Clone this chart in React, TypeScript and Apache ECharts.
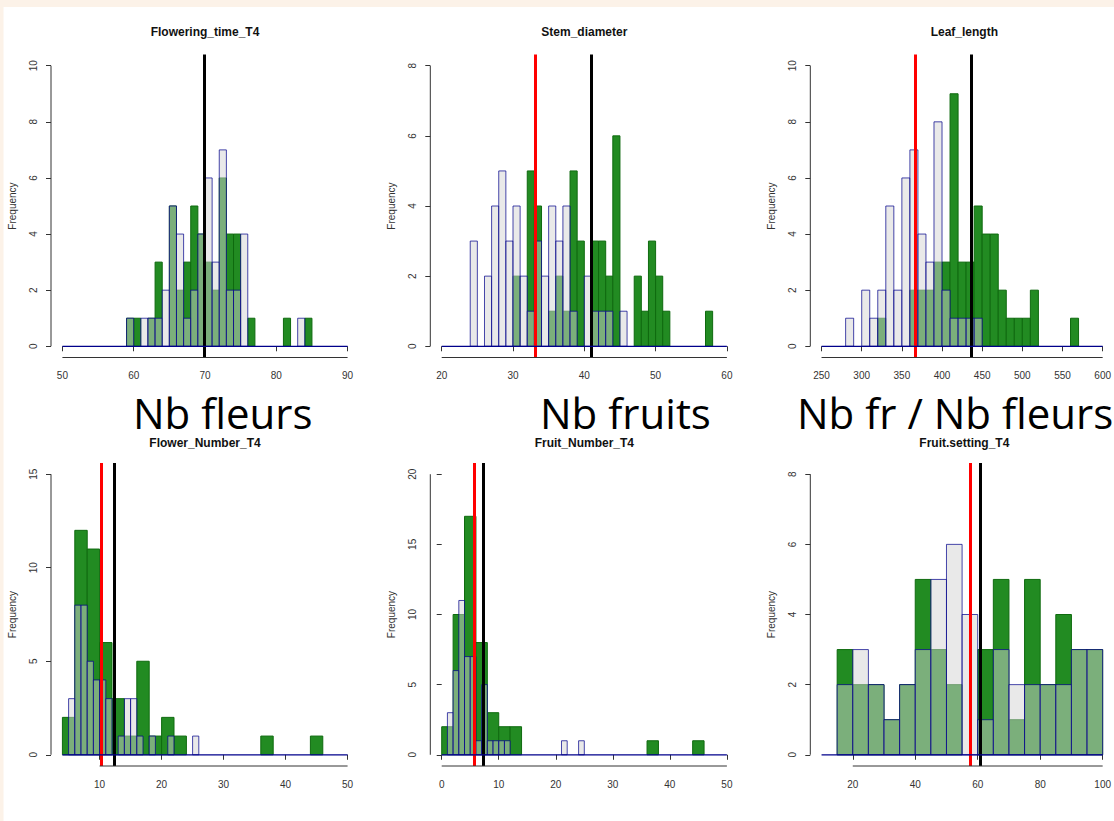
import React, { useEffect, useRef } from "react";
import * as echarts from "echarts";

// ---------- data ----------
const panelTitles = ["Flowering_time_T4", "Stem_diameter", "Leaf_length", "Flower_Number_T4", "Fruit_Number_T4", "Fruit.setting_T4"];
const slideLabels = ["Nb fleurs", "Nb fruits", "Nb fr / Nb fleurs"];

// Flowering_time_T4 (bins of 1 from 59)
const ftStart = 59, ftWidth = 1;
const ftGreen = [1, 1, 0, 1, 3, 0, 5, 2, 3, 5, 4, 3, 2, 6, 4, 4, 0, 1, 0, 0, 0, 0, 1, 0, 0, 1];
const ftGrey = [1, 0, 1, 1, 1, 2, 5, 4, 1, 2, 4, 6, 3, 7, 2, 2, 4, 0, 0, 0, 0, 0, 0, 0, 1, 0];
const ftXlim = [50, 90], ftXTicks = [50, 60, 70, 80, 90], ftYTicks = [0, 2, 4, 6, 8, 10];
const ftRed: number[] = [], ftBlack = [69.9];

// Stem_diameter (bins of 1 from 24)
const sdStart = 24, sdWidth = 1;
const sdGreen = [0, 0, 0, 0, 0, 0, 2, 0, 5, 4, 0, 1, 2, 1, 5, 3, 0, 3, 3, 2, 6, 0, 0, 2, 1, 3, 2, 1, 0, 0, 0, 0, 0, 1];
const sdGrey = [3, 0, 2, 4, 5, 3, 4, 2, 1, 3, 2, 4, 3, 4, 1, 0, 2, 1, 1, 1, 0, 1, 0, 0, 0, 0, 0, 0, 0, 0, 0, 0, 0, 0];
const sdXlim = [20, 60], sdXTicks = [20, 30, 40, 50, 60], sdYTicks = [0, 2, 4, 6, 8];
const sdRed = [33.15], sdBlack = [41.0];

// Leaf_length (bins of 10 from 280)
const llStart = 280, llWidth = 10;
const llGreen = [0, 0, 0, 0, 1, 0, 0, 0, 2, 2, 2, 3, 3, 9, 3, 3, 5, 4, 4, 2, 1, 1, 1, 2, 0, 0, 0, 0, 1];
const llGrey = [1, 0, 2, 1, 2, 5, 2, 6, 7, 4, 3, 8, 2, 1, 1, 1, 1, 0, 0, 0, 0, 0, 0, 0, 0, 0, 0, 0, 0];
const llXlim = [250, 600], llXTicks = [250, 300, 350, 400, 450, 500, 550, 600], llYTicks = [0, 2, 4, 6, 8, 10];
const llRed = [367], llBlack = [436.7];

// Flower_Number_T4 (green bins of 2 from 4, grey bins of 1 from 5)
const fnGreenStart = 4, fnGreenWidth = 2;
const fnGreen = [2, 12, 11, 6, 3, 1, 5, 1, 2, 1, 0, 0, 0, 0, 0, 0, 1, 0, 0, 0, 1];
const fnGreyStart = 5, fnGreyWidth = 1;
const fnGrey = [3, 8, 8, 5, 4, 4, 3, 0, 1, 3, 3, 1, 0, 1, 0, 0, 1, 0, 0, 0, 1];
const fnXlim = [4, 50], fnXTicks = [10, 20, 30, 40, 50], fnYTicks = [0, 5, 10, 15];
const fnRed = [10.27], fnBlack = [12.3];

// Fruit_Number_T4 (green bins of 2 from 0, grey bins of 1 from 1)
const frGreenStart = 0, frGreenWidth = 2;
const frGreen = [2, 10, 17, 8, 3, 2, 2, 0, 0, 0, 0, 0, 0, 0, 0, 0, 0, 0, 1, 0, 0, 0, 1];
const frGreyStart = 1, frGreyWidth = 1;
const frGrey = [3, 6, 11, 7, 7, 1, 5, 1, 1, 1, 1, 0, 0, 0, 0, 0, 0, 0, 0, 0, 1, 0, 0, 1];
const frXlim = [0, 50], frXTicks = [0, 10, 20, 30, 40, 50], frYTicks = [0, 5, 10, 15, 20];
const frRed = [5.73], frBlack = [7.31];

// Fruit.setting_T4 (bins of 5 from 15)
const fsStart = 15, fsWidth = 5;
const fsGreen = [3, 2, 2, 1, 2, 5, 3, 2, 0, 3, 5, 1, 5, 2, 4, 3, 3];
const fsGrey = [2, 3, 2, 1, 2, 3, 5, 6, 4, 1, 3, 2, 2, 2, 2, 3, 3];
const fsXlim = [10, 100], fsXTicks = [20, 40, 60, 80, 100], fsYTicks = [0, 2, 4, 6, 8];
const fsRed = [57.7], fsBlack = [60.8];

// ---------- layout / styles ----------
const colLeft = [51, 430.3, 810.3];
const rowTop = [54.5, 463];
const gridW = 308;
const gridH = 303;
const GREEN = "#228B22";
const GREEN_BORDER = "#0f6a0f";
const GREY = "rgba(211,211,211,0.5)";
const GREY_BORDER = "rgba(0,0,139,0.72)";
const AXIS = "#333333";
const FONT = "Liberation Sans, Arial, sans-serif";

type Panel = {
  green: number[][];
  grey: number[][];
  xlim: number[];
  xTicks: number[];
  yTicks: number[];
  red: number[];
  black: number[];
};

function bins(start: number, width: number, counts: number[]) {
  return counts
    .map((c, i) => [start + i * width, start + (i + 1) * width, c])
    .filter((d) => d[2] > 0);
}

const panels: Panel[] = [
  { green: bins(ftStart, ftWidth, ftGreen), grey: bins(ftStart, ftWidth, ftGrey), xlim: ftXlim, xTicks: ftXTicks, yTicks: ftYTicks, red: ftRed, black: ftBlack },
  { green: bins(sdStart, sdWidth, sdGreen), grey: bins(sdStart, sdWidth, sdGrey), xlim: sdXlim, xTicks: sdXTicks, yTicks: sdYTicks, red: sdRed, black: sdBlack },
  { green: bins(llStart, llWidth, llGreen), grey: bins(llStart, llWidth, llGrey), xlim: llXlim, xTicks: llXTicks, yTicks: llYTicks, red: llRed, black: llBlack },
  { green: bins(fnGreenStart, fnGreenWidth, fnGreen), grey: bins(fnGreyStart, fnGreyWidth, fnGrey), xlim: fnXlim, xTicks: fnXTicks, yTicks: fnYTicks, red: fnRed, black: fnBlack },
  { green: bins(frGreenStart, frGreenWidth, frGreen), grey: bins(frGreyStart, frGreyWidth, frGrey), xlim: frXlim, xTicks: frXTicks, yTicks: frYTicks, red: frRed, black: frBlack },
  { green: bins(fsStart, fsWidth, fsGreen), grey: bins(fsStart, fsWidth, fsGrey), xlim: fsXlim, xTicks: fsXTicks, yTicks: fsYTicks, red: fsRed, black: fsBlack },
];

function ext(lo: number, hi: number) {
  const d = (hi - lo) * 0.04;
  return [lo - d, hi + d];
}

function histSeries(i: number, data: number[][], fill: string, stroke: string, z: number) {
  return {
    type: "custom",
    xAxisIndex: i,
    yAxisIndex: i,
    z,
    silent: true,
    encode: { x: [0, 1], y: 2 },
    data,
    renderItem: (params: any, api: any) => {
      const x0 = api.value(0);
      const x1 = api.value(1);
      const c = api.value(2);
      const p0 = api.coord([x0, c]);
      const p1 = api.coord([x1, 0]);
      return {
        type: "rect",
        shape: { x: p0[0], y: p0[1], width: p1[0] - p0[0], height: p1[1] - p0[1] },
        style: { fill, stroke, lineWidth: 1 },
      };
    },
  };
}

function buildOption() {
  const grid: any[] = [];
  const xAxis: any[] = [];
  const yAxis: any[] = [];
  const series: any[] = [];
  const graphic: any[] = [];

  panels.forEach((p, i) => {
    const col = i % 3;
    const row = Math.floor(i / 3);
    const left = colLeft[col];
    const top = rowTop[row];
    grid.push({ left, top, width: gridW, height: gridH, containLabel: false });
    const xe = ext(p.xlim[0], p.xlim[1]);
    const yMax = p.yTicks[p.yTicks.length - 1];
    const ye = ext(0, yMax);
    xAxis.push({
      gridIndex: i,
      type: "value",
      min: xe[0],
      max: xe[1],
      axisLine: { show: false },
      splitLine: { show: false },
      axisTick: { show: true, customValues: p.xTicks, length: 5, lineStyle: { color: AXIS, width: 1 } },
      axisLabel: { customValues: p.xTicks, fontSize: 10, color: AXIS, margin: 13, fontFamily: FONT },
    });
    yAxis.push({
      gridIndex: i,
      type: "value",
      min: ye[0],
      max: ye[1],
      name: "Frequency",
      nameLocation: "middle",
      nameRotate: 90,
      nameGap: 34,
      nameTextStyle: { fontSize: 10, color: AXIS, fontFamily: FONT },
      axisLine: { show: false },
      splitLine: { show: false },
      axisTick: { show: true, customValues: p.yTicks, length: 5, lineStyle: { color: AXIS, width: 1 } },
      axisLabel: { customValues: p.yTicks, fontSize: 10, color: AXIS, margin: 13, rotate: 90, fontFamily: FONT },
    });

    series.push(histSeries(i, p.green, GREEN, GREEN_BORDER, 2));
    series.push(histSeries(i, p.grey, GREY, GREY_BORDER, 3));

    // axis lines (R style: only between first and last tick)
    series.push({
      type: "line",
      xAxisIndex: i,
      yAxisIndex: i,
      data: [[xe[0], p.yTicks[0]], [xe[0], yMax]],
      symbol: "none",
      clip: false,
      silent: true,
      z: 6,
      lineStyle: { color: AXIS, width: 1 },
    });
    series.push({
      type: "line",
      xAxisIndex: i,
      yAxisIndex: i,
      data: [[p.xTicks[0], ye[0]], [p.xTicks[p.xTicks.length - 1], ye[0]]],
      symbol: "none",
      clip: false,
      silent: true,
      z: 6,
      lineStyle: { color: AXIS, width: 1 },
    });

    // zero-height baseline of the histogram + vertical reference lines
    const marks: any[] = [];
    p.red.forEach((v) => marks.push({ xAxis: v, lineStyle: { color: "#ff0000" } }));
    p.black.forEach((v) => marks.push({ xAxis: v, lineStyle: { color: "#000000" } }));
    series.push({
      type: "line",
      xAxisIndex: i,
      yAxisIndex: i,
      data: [[p.xlim[0], 0], [p.xlim[1], 0]],
      symbol: "none",
      clip: false,
      silent: true,
      z: 7,
      lineStyle: { color: "#00008B", width: 1.3 },
      markLine: {
        silent: true,
        symbol: ["none", "none"],
        label: { show: false },
        lineStyle: { width: 3, type: "solid" },
        data: marks,
      },
    });

    graphic.push({
      type: "text",
      x: left + gridW / 2,
      y: row === 0 ? 32 : 443,
      style: {
        text: panelTitles[i],
        fill: "#111",
        font: `bold 12px ${FONT}`,
        lineHeight: 11,
        align: "center",
        verticalAlign: "middle",
      },
      z: 20,
    });
  });

  // slide background bits
  graphic.push({ type: "rect", shape: { x: 0, y: 0, width: 1114, height: 7 }, style: { fill: "#FCF2E8" }, z: 1 });
  graphic.push({ type: "rect", shape: { x: 0, y: 0, width: 3.5, height: 821 }, style: { fill: "#FCF2E8" }, z: 1 });

  const bigX = [133, 540, 797];
  slideLabels.forEach((t, k) => {
    graphic.push({
      type: "text",
      x: bigX[k],
      y: 412,
      style: {
        text: t,
        fill: "#000",
        font: `42px "Open Sans", sans-serif`,
        lineHeight: 30,
        align: "left",
        verticalAlign: "middle",
      },
      z: 20,
    });
  });

  return {
    animation: false,
    backgroundColor: "#ffffff",
    grid,
    xAxis,
    yAxis,
    series,
    graphic,
  };
}

export default function App() {
  const ref = useRef<HTMLDivElement>(null);
  useEffect(() => {
    if (!ref.current) return;
    const chart = echarts.init(ref.current, null, { renderer: "svg" });
    chart.setOption(buildOption() as any);
    return () => chart.dispose();
  }, []);
  return (
    <div
      ref={ref}
      style={{ position: "absolute", left: 0, top: 0, width: 1114, height: 821, background: "#fff" }}
    />
  );
}
